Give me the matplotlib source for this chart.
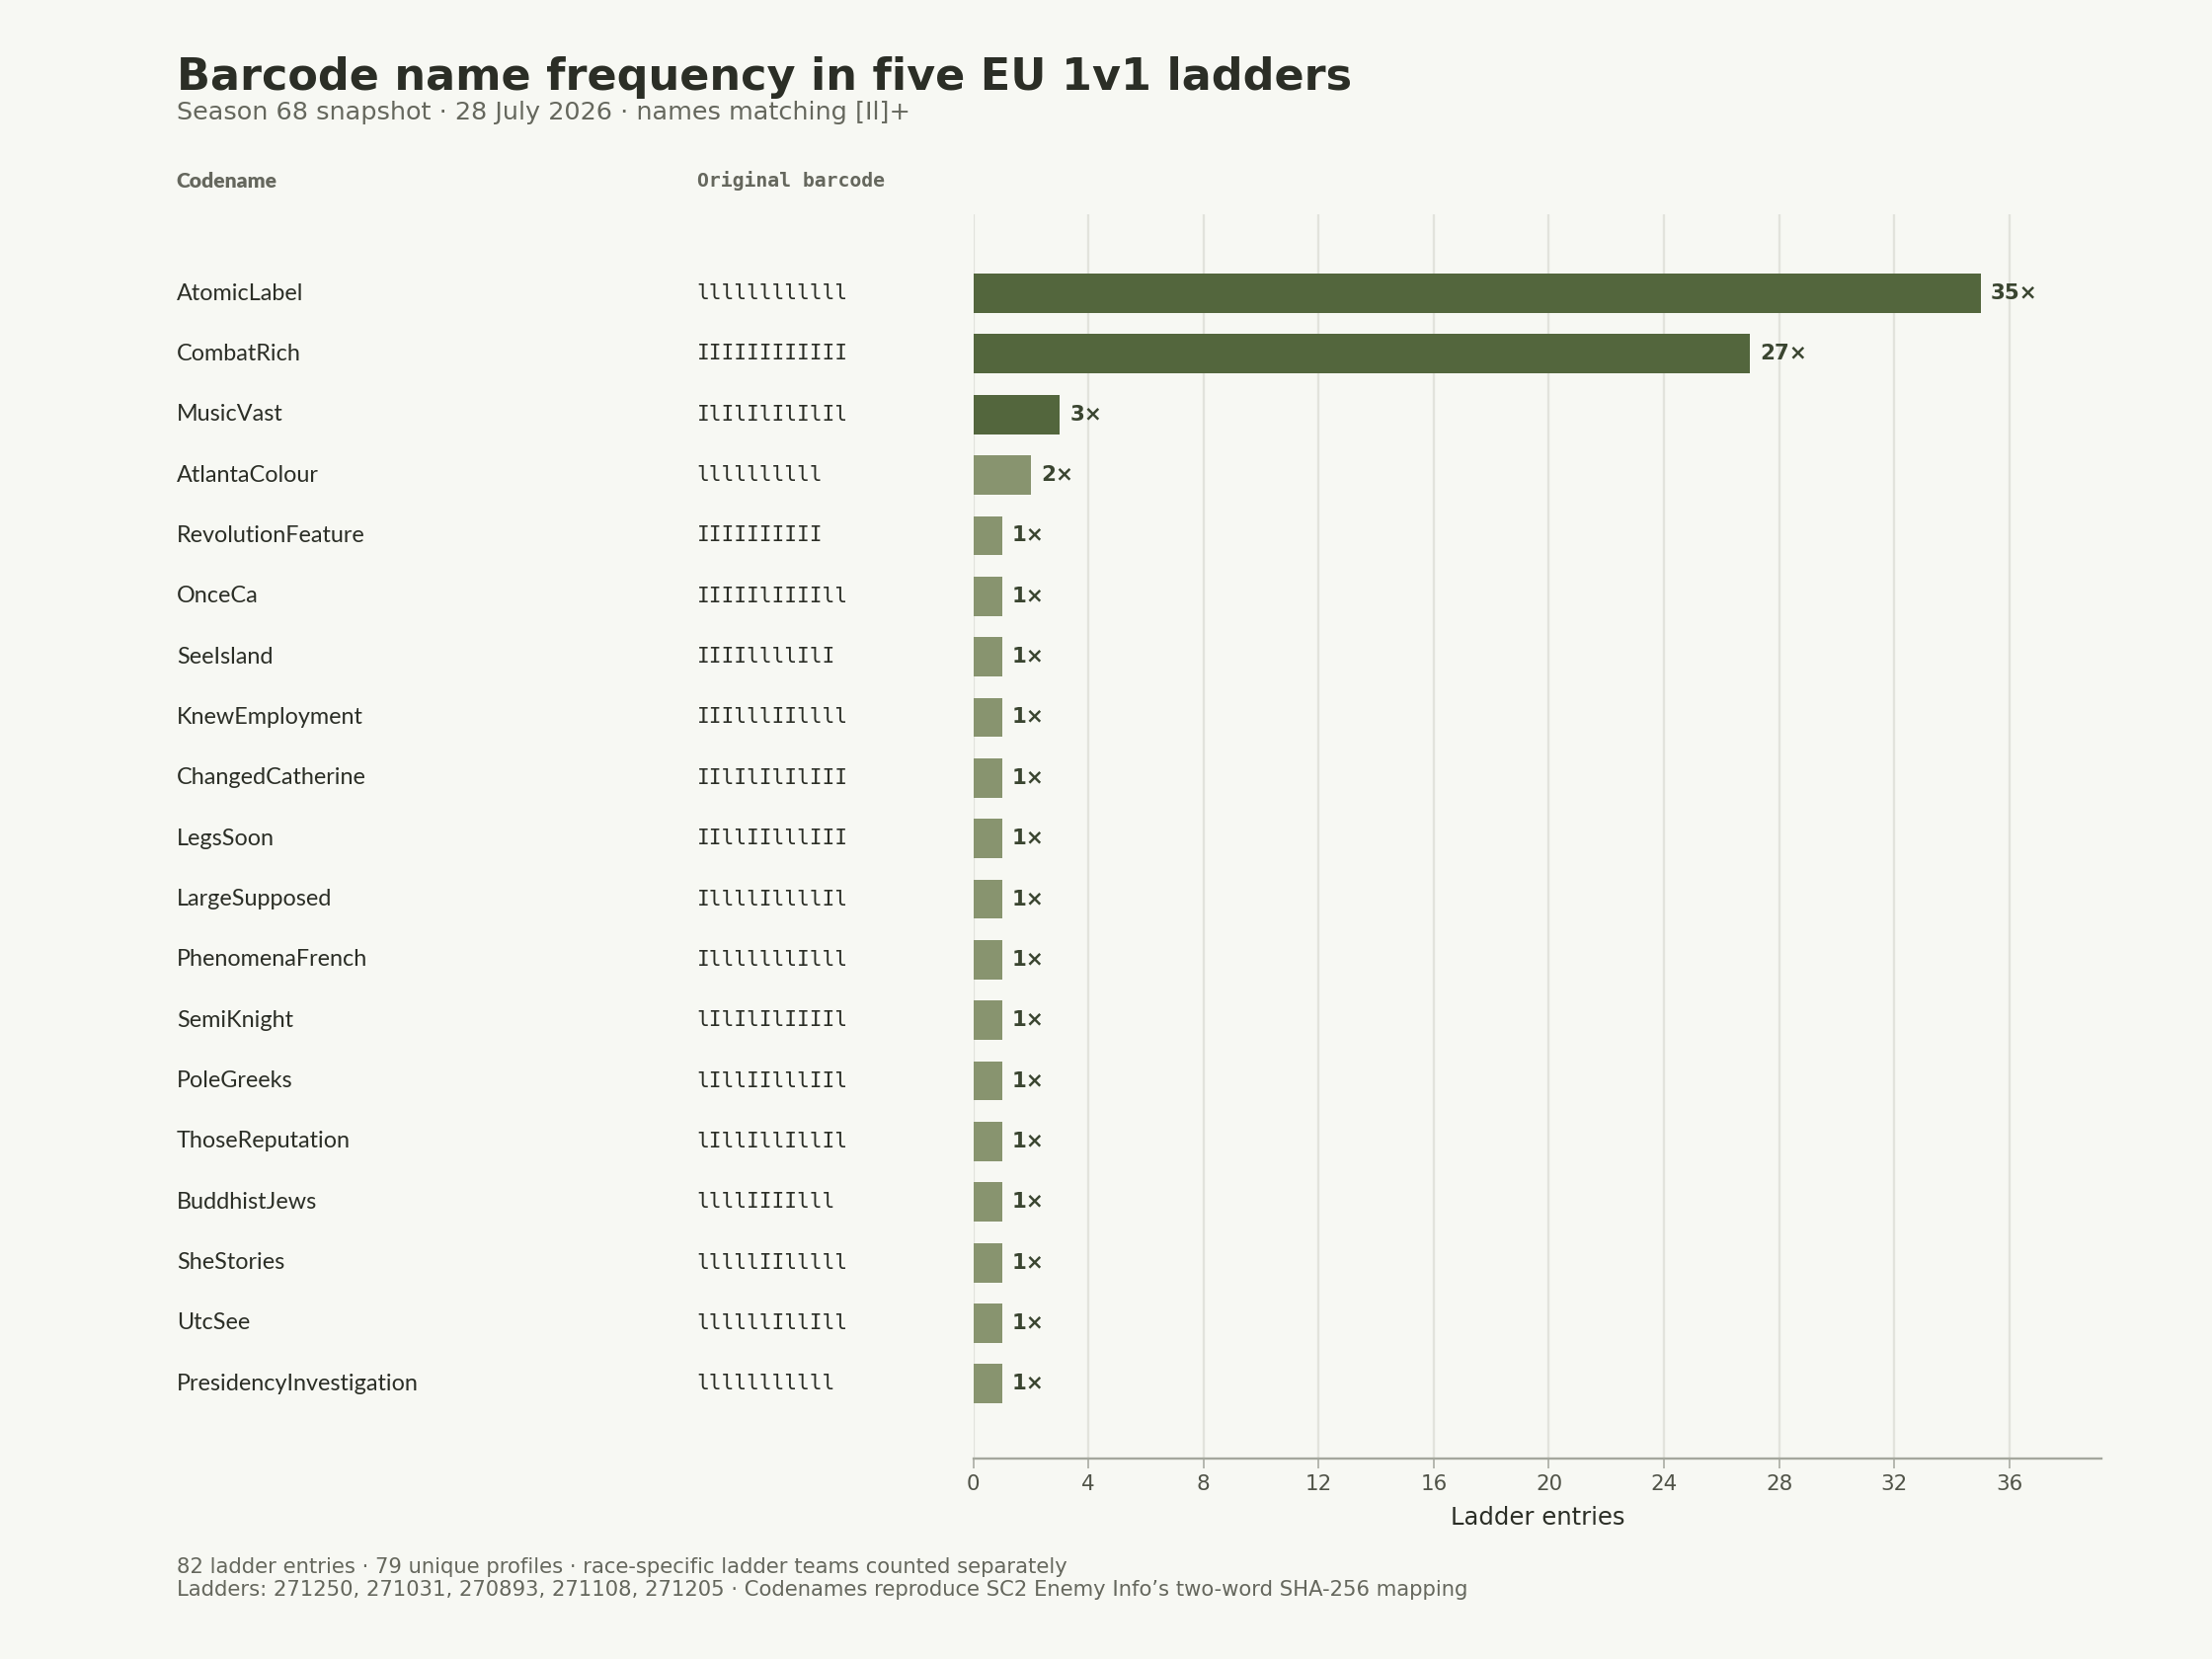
import matplotlib
matplotlib.use("Agg")
from matplotlib import pyplot as plt
import matplotlib.transforms as mtransforms

codenames = ["AtomicLabel", "CombatRich", "MusicVast", "AtlantaColour", "RevolutionFeature",
             "OnceCa", "SeeIsland", "KnewEmployment", "ChangedCatherine", "LegsSoon",
             "LargeSupposed", "PhenomenaFrench", "SemiKnight", "PoleGreeks", "ThoseReputation",
             "BuddhistJews", "SheStories", "UtcSee", "PresidencyInvestigation"]
barcodes = ["llllllllllll", "IIIIIIIIIIII", "IlIlIlIlIlIl", "llllllllll", "IIIIIIIIII",
            "IIIIIlIIIIll", "IIIIllllIlI", "IIIlllIIllll", "IIlIlIlIlIII", "IIllIIlllIII",
            "IllllIllllIl", "IlllllllIlll", "lIlIlIlIIIIl", "lIllIIlllIIl", "lIllIllIllIl",
            "llllIIIIlll", "lllllIIlllll", "llllllIllIll", "lllllllllll"]
counts = [35, 27, 3, 2, 1, 1, 1, 1, 1, 1, 1, 1, 1, 1, 1, 1, 1, 1, 1]
xticks = [0, 4, 8, 12, 16, 20, 24, 28, 32, 36]

bg = "#f7f8f3"
dark = "#53663d"
light = "#88946f"
ink = "#2b2e26"
muted = "#65675d"

fig = plt.figure(figsize=(16, 12), dpi=140, facecolor=bg)
ax = fig.add_axes([0.440, 0.121, 0.510, 0.750])
ax.set_facecolor(bg)

y = list(range(len(counts)))
colors = [dark if c >= 3 else light for c in counts]
ax.barh(y, counts, height=0.65, color=colors, zorder=3)
for yi, c in zip(y, counts):
    ax.text(c + 0.35, yi, "%d\u00d7" % c, va="center", ha="left", fontsize=11,
            fontweight="bold", color="#3a4530", zorder=4)

ax.set_ylim(len(counts) - 1 + 1.23, -1.31)
ax.set_xlim(0, 39.2)
ax.set_xticks(xticks)
ax.set_yticks([])
ax.grid(axis="x", color="#e2e3dc", linewidth=1.2, zorder=0)
for s in ["top", "right", "left"]:
    ax.spines[s].set_visible(False)
ax.spines["bottom"].set_color("#a4a79d")
ax.spines["bottom"].set_linewidth(1.2)
ax.tick_params(axis="x", colors="#a4a79d", labelcolor="#505348", labelsize=11, length=5)
ax.set_xlabel("Ladder entries", fontsize=12.5, color=ink, labelpad=6)

# left-hand text columns: x in figure coords, y on the bar rows
trans = mtransforms.blended_transform_factory(fig.transFigure, ax.transData)
for yi, name, code in zip(y, codenames, barcodes):
    ax.text(0.0798, yi, name, transform=trans, va="center", ha="left",
            fontsize=12, family="Lato", color=ink, clip_on=False)
    ax.text(0.315, yi, code, transform=trans, va="center", ha="left",
            fontsize=10.9, family="DejaVu Sans Mono", color=ink, clip_on=False)

fig.text(0.0798, 0.891, "Codename", fontsize=10.9, fontweight="heavy", family="Lato",
         color=muted, va="center")
fig.text(0.315, 0.891, "Original barcode", fontsize=10.2, fontweight="bold",
         family="DejaVu Sans Mono", color=muted, va="center")

fig.text(0.0798, 0.953, "Barcode name frequency in five EU 1v1 ladders", fontsize=22.9,
         fontweight="bold", color=ink, va="center")
fig.text(0.0798, 0.932, "Season 68 snapshot \u00b7 28 July 2026 \u00b7 names matching [Il]+",
         fontsize=13.1, color=muted, va="center")

fig.text(0.0798, 0.0554, "82 ladder entries \u00b7 79 unique profiles \u00b7 race-specific ladder teams counted separately",
         fontsize=10.85, color=muted, va="center")
fig.text(0.0798, 0.0417, "Ladders: 271250, 271031, 270893, 271108, 271205 \u00b7 Codenames reproduce SC2 Enemy Info\u2019s two-word SHA-256 mapping",
         fontsize=10.85, color=muted, va="center")

fig.savefig("out.png", facecolor=bg)
